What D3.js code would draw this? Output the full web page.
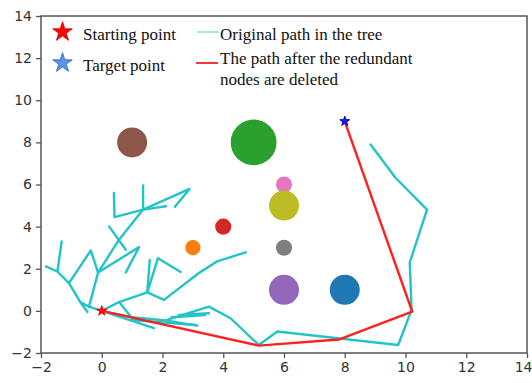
<!DOCTYPE html>
<html><head><meta charset="utf-8">
<script src="https://cdn.jsdelivr.net/npm/d3@7"></script>
<style>html,body{margin:0;padding:0;background:#fff;}svg{display:block;}</style>
</head><body>
<script>
// ---- data ----
const xTicks = [-2, 0, 2, 4, 6, 8, 10, 12, 14];
const yTicks = [-2, 0, 2, 4, 6, 8, 10, 12, 14];

const obstacleX = [1, 5, 6, 6, 4, 3, 6, 6, 8];
const obstacleY = [8, 8, 6, 5, 4, 3, 3, 1, 1];
const obstacleSize = [900, 2100, 260, 900, 260, 230, 260, 900, 900];
const obstacleColor = ["#8c564b", "#2ca02c", "#e377c2", "#bcbd22", "#d62728", "#ff7f0e", "#7f7f7f", "#9467bd", "#1f77b4"];

const startPoint = [0, 0];
const targetPoint = [8, 9];

const prunedX = [0, 5.17, 7.8, 10.22, 8];
const prunedY = [0, -1.65, -1.36, -0.03, 9];

const treeBranches = [
  [[0,0],[-0.42,0.2],[-0.7,0.4],[-1.08,1.32],[-1.46,1.87],[-1.84,2.11]],
  [[-1.46,1.87],[-1.32,3.3]],
  [[-1.08,1.32],[-0.36,2.87],[-0.12,1.82]],
  [[-0.7,0.4],[-0.47,-0.05]],
  [[-0.42,0.2],[-0.12,1.82],[0.57,3.38],[1.36,4.81],[2.89,5.79],[2.41,4.94]],
  [[-0.12,1.82],[1.23,3.03],[0.79,1.82]],
  [[0.24,4.01],[0.79,2.9]],
  [[0.4,5.6],[0.42,4.45],[1.36,4.81],[2.11,4.97]],
  [[1.36,5.95],[1.36,4.81]],
  [[0,0],[0.57,0.42],[1.5,0.88],[2.05,0.52],[3.2,1.8],[3.8,2.35],[4.74,2.78]],
  [[1.5,0.88],[1.58,2.42]],
  [[1.5,0.88],[1.85,2.5],[2.6,1.85]],
  [[0.57,0.42],[1.0,-0.35]],
  [[0,0],[1.72,-0.82]],
  [[0,0],[1.0,-0.3],[2.1,-0.45],[3.53,0.2],[4.24,-0.35],[5.17,-1.62],[5.78,-0.98],[9.76,-1.62],[10.2,0.05],[10.14,2.3],[10.71,4.81],[9.67,6.32],[8.85,7.9]],
  [[1.0,-0.43],[3.09,-0.67]],
  [[2.1,-0.45],[3.15,-0.7]],
  [[2.54,-0.19],[3.53,-0.11]],
  [[2.3,-0.3],[3.4,-0.2]]
];

const legendLabels = ["Starting point", "Target point", "Original path in the tree", ["The path after the redundant", "nodes are deleted"]];

// ---- drawing ----
const W = 532, H = 383;
const svg = d3.select("body").append("svg").attr("width", W).attr("height", H);

const x = d3.scaleLinear().domain([-2, 14]).range([41, 527]);
const y = d3.scaleLinear().domain([-2, 14]).range([353, 16]);

const plot = svg.append("g");

// obstacles
const r = d3.scaleSqrt().domain([0, 900]).range([0, 15]);
plot.selectAll("circle.obs").data(obstacleX.map((d, i) => i)).join("circle")
  .attr("class", "obs")
  .attr("cx", i => x(obstacleX[i]))
  .attr("cy", i => y(obstacleY[i]))
  .attr("r", i => r(obstacleSize[i]))
  .attr("fill", i => obstacleColor[i]);

// tree
const line = d3.line().x(d => x(d[0])).y(d => y(d[1]));
plot.selectAll("path.tree").data(treeBranches).join("path")
  .attr("class", "tree")
  .attr("d", line)
  .attr("fill", "none")
  .attr("stroke", "#22c4c6")
  .attr("stroke-width", 2.4)
  .attr("stroke-linejoin", "round")
  .attr("stroke-linecap", "round");

// pruned path
plot.append("path")
  .attr("d", line(prunedX.map((v, i) => [v, prunedY[i]])))
  .attr("fill", "none")
  .attr("stroke", "#ff2020")
  .attr("stroke-width", 2.4)
  .attr("stroke-linejoin", "round");

// star markers
const star = s => d3.symbol().type(d3.symbolStar).size(s)();
plot.append("path").attr("d", star(30))
  .attr("transform", `translate(${x(startPoint[0])},${y(startPoint[1])})`)
  .attr("fill", "#ff1010").attr("stroke", "#e00000").attr("stroke-width", 1);
plot.append("path").attr("d", star(30))
  .attr("transform", `translate(${x(targetPoint[0])},${y(targetPoint[1])})`)
  .attr("fill", "#1a1aff").attr("stroke", "#0000aa").attr("stroke-width", 1);

// axes
const fmt = d3.format("d");
const xAxis = d3.axisBottom(x).tickValues(xTicks).tickSize(5).tickPadding(4).tickFormat(d => fmt(d));
const yAxis = d3.axisLeft(y).tickValues(yTicks).tickSize(5).tickPadding(4).tickFormat(d => fmt(d));
const gx = svg.append("g").attr("transform", "translate(0,353)").call(xAxis);
const gy = svg.append("g").attr("transform", "translate(41,0)").call(yAxis);
[gx, gy].forEach(g => {
  g.select(".domain").remove();
  g.selectAll(".tick line").attr("stroke", "#555").attr("stroke-width", 1.3);
  g.selectAll(".tick text").attr("fill", "#333").style("font-family", "DejaVu Sans").style("font-size", "14px");
});
// keep the last x label inside the window
gx.selectAll(".tick").filter(d => d === xTicks[xTicks.length - 1]).select("text")
  .attr("text-anchor", "end").attr("dx", "5");

// frame
svg.append("rect").attr("x", 41).attr("y", 16).attr("width", 486).attr("height", 337)
  .attr("fill", "none").attr("stroke", "#555").attr("stroke-width", 1.5);

// legend
const lg = svg.append("g").style("font-family", "Liberation Serif").style("font-size", "17px").attr("fill", "#111");
lg.append("path").attr("d", star(120)).attr("transform", "translate(62.5,32)")
  .attr("fill", "#ff0000").attr("stroke", "#d00000").attr("stroke-width", 0.8);
lg.append("text").attr("x", 83).attr("y", 40).text(legendLabels[0]);
lg.append("path").attr("d", star(120)).attr("transform", "translate(62.5,63)")
  .attr("fill", "#5b93e6").attr("stroke", "#2f62c0").attr("stroke-width", 0.8);
lg.append("text").attr("x", 83).attr("y", 71).text(legendLabels[1]);

lg.append("line").attr("x1", 197).attr("x2", 219).attr("y1", 32).attr("y2", 32)
  .attr("stroke", "#a6e2f6").attr("stroke-width", 2);
lg.append("text").attr("x", 220).attr("y", 40).text(legendLabels[2]);
lg.append("line").attr("x1", 196).attr("x2", 218).attr("y1", 63).attr("y2", 63)
  .attr("stroke", "#ee3a3a").attr("stroke-width", 2);
lg.append("text").attr("x", 220).attr("y", 64).text(legendLabels[3][0]);
lg.append("text").attr("x", 220).attr("y", 85).text(legendLabels[3][1]);
</script>
</body></html>
